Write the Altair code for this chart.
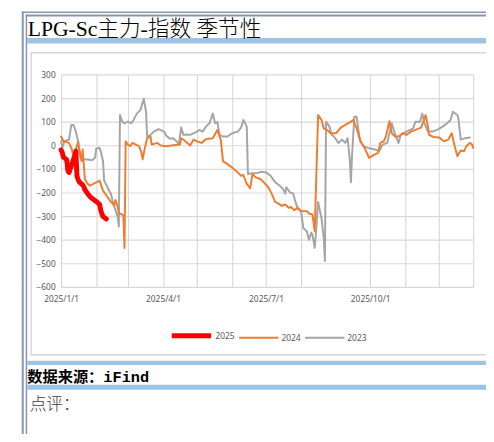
import altair as alt
import pandas as pd

# ---------------- data ----------------
YEARS = ["2025", "2024", "2023"]
COLORS = ["#ff0000", "#ed7d31", "#a5a5a5"]
WIDTHS = [5, 2, 2]

Y_TICKS = [-600, -500, -400, -300, -200, -100, 0, 100, 200, 300]

D2025 = ["01-01", "01-02", "01-03", "01-06", "01-07", "01-08", "01-09", "01-10",
         "01-13", "01-14", "01-15", "01-16", "01-17", "01-20", "01-21", "01-22",
         "01-23", "01-24", "01-27", "02-01", "02-04", "02-05", "02-06", "02-07", "02-10"]
V2025 = [-20, -30, -50, -62, -108, -115, -100, -88,
         -45, -25, -130, -145, -155, -168, -175, -188,
         -195, -202, -220, -238, -250, -275, -290, -302, -312]

D2024 = ["01-01", "01-03", "01-08", "01-10", "01-12", "01-15", "01-16", "01-19", "01-20",
         "01-22", "01-24", "01-26", "01-29", "02-01", "02-04", "02-07", "02-11", "02-14",
         "02-17", "02-18", "02-20", "02-21", "02-24", "02-25", "02-26", "02-27", "03-01",
         "03-03", "03-05", "03-08", "03-11", "03-13", "03-14", "03-16", "03-18", "03-21",
         "03-22", "03-27", "03-30", "04-04", "04-10", "04-16", "04-17", "04-20", "04-25",
         "04-28", "05-01", "05-05", "05-09", "05-15", "05-19", "05-22", "05-24", "05-28",
         "06-01", "06-06", "06-09", "06-11", "06-14", "06-17", "06-19", "06-22", "06-26",
         "06-29", "07-03", "07-06", "07-09", "07-12", "07-15", "07-18", "07-21", "07-23",
         "07-26", "07-29", "08-01", "08-06", "08-08", "08-11", "08-13", "08-16", "08-19",
         "08-21", "08-24", "08-27", "09-01", "09-05", "09-09", "09-14", "09-16", "09-19",
         "09-22", "09-26", "09-30", "10-04", "10-08", "10-10", "10-13", "10-15", "10-18",
         "10-20", "10-23", "10-26", "10-30", "11-02", "11-06", "11-10", "11-15", "11-19",
         "11-21", "11-22", "11-26", "12-01", "12-05", "12-09", "12-12", "12-15", "12-17",
         "12-20", "12-23", "12-25", "12-28", "12-30", "12-31"]
V2024 = [37, 17, 10, -11, -42, -4, 14, -67, -18,
         -143, -160, -171, -165, -157, -150, -192, -219, -240,
         -254, -232, -261, -289, -293, -300, -435, 17, 3,
         -4, 10, 3, -4, -32, -60, -11, 30, 37,
         3, 10, -1, -4, 0, 3, 30, 20, -1,
         24, 17, 10, 26, 30, 65, 24, -67, -80,
         -94, -115, -129, -126, -164, -182, -122, -136, -143,
         -157, -178, -205, -240, -247, -257, -251, -265, -261,
         -275, -265, -279, -279, -289, -293, -365, 128, 107,
         72, 65, 51, 51, 75, 86, 100, 107, 72,
         24, -11, -53, -42, -32, 10, 17, 40, 102,
         51, 37, 37, 51, 44, 58, 65, 75, 128,
         79, 44, 35, 33, 17, 24, 51, -11, -46,
         -22, -25, -4, 10, 3, -11]

D2023 = ["01-01", "01-02", "01-04", "01-08", "01-10", "01-12", "01-14", "01-16", "01-17",
         "01-18", "01-21", "01-25", "01-28", "01-31", "02-01", "02-04", "02-05", "02-07",
         "02-08", "02-11", "02-13", "02-14", "02-16", "02-17", "02-18", "02-20", "02-21",
         "02-22", "02-24", "02-26", "03-01", "03-04", "03-06", "03-09", "03-12", "03-15",
         "03-17", "03-18", "03-21", "03-24", "03-28", "04-02", "04-04", "04-07", "04-10",
         "04-13", "04-15", "04-17", "04-19", "04-22", "04-25", "05-01", "05-03", "05-06",
         "05-09", "05-12", "05-15", "05-17", "05-19", "05-21", "05-24", "05-28", "06-01",
         "06-06", "06-09", "06-11", "06-14", "06-15", "06-19", "06-23", "06-27", "07-01",
         "07-05", "07-08", "07-11", "07-13", "07-16", "07-18", "07-19", "07-22", "07-25",
         "07-27", "07-29", "08-01", "08-03", "08-06", "08-08", "08-10", "08-11", "08-13",
         "08-14", "08-16", "08-19", "08-21", "08-22", "08-23", "08-26", "08-28", "08-30",
         "09-03", "09-06", "09-09", "09-11", "09-13", "09-14", "09-15", "09-17", "09-19",
         "09-22", "09-25", "09-29", "10-05", "10-09", "10-12", "10-16", "10-20", "10-22",
         "10-26", "10-28", "11-02", "11-08", "11-10", "11-14", "11-16", "11-18", "11-21",
         "11-25", "11-29", "12-04", "12-08", "12-11", "12-13", "12-17", "12-18", "12-20",
         "12-24", "12-28"]
V2023 = [17, -11, 17, 24, 86, 86, 58, 17, -25,
         -53, -60, -60, -64, -53, -14, -11, -25, -67,
         -150, -178, -199, -205, -247, -261, -275, -303, -344,
         128, 100, 93, 100, 93, 107, 135, 149, 197,
         142, 37, 44, 58, 68, 58, 40, 28, 30,
         17, 3, 75, 44, 46, 44, 58, 65, 58,
         79, 93, 135, 93, 98, 44, 37, 37, 51,
         58, 75, 107, 79, -122, -118, -118, -112, -115,
         -129, -150, -164, -171, -185, -205, -178, -199, -205,
         -240, -268, -282, -351, -365, -400, -370, -379, -435,
         -380, -240, -310, -393, -490, 100, 79, 44, 37,
         10, 24, 10, 30, -60, -157, -40, 121, 121,
         17, -4, -11, -18, -25, 3, 10, 93, 60,
         10, 44, 58, 72, 100, 100, 135, 93, 58,
         58, 65, 79, 93, 107, 142, 128, 110, 24,
         30, 33]

TITLE = "LPG-Sc主力-指数 季节性"
SOURCE = "数据来源：iFind"
COMMENT = "点评："

# ---------------- table ----------------
rows = []
for year, dates, vals in [("2025", D2025, V2025), ("2024", D2024, V2024), ("2023", D2023, V2023)]:
    for d, v in zip(dates, vals):
        rows.append({"date": "2025-" + d + "T00:00:00", "value": v, "year": year})
df = pd.DataFrame(rows)

GRID_DATES = [alt.DateTime(year=2025, month=m, date=1) for m in [1, 2, 3, 4, 5, 6, 7, 8, 10, 11, 12]] + \
             [alt.DateTime(year=2025, month=12, date=31)]

LABEL_FONT = "Noto Sans"
LABEL_COLOR = "#595959"
GRID_COLOR = "#d9d9d9"

x_enc = alt.X(
    "date:T",
    title=None,
    scale=alt.Scale(domain=[alt.DateTime(year=2025, month=1, date=1),
                            alt.DateTime(year=2025, month=12, date=31)]),
    axis=alt.Axis(values=GRID_DATES,
                  labelExpr="(month(datum.value) % 3 == 0 && date(datum.value) == 1) ? timeFormat(datum.value, '%Y/%-m/%-d') : ''",
                  grid=True, gridColor=GRID_COLOR, gridWidth=1.2, ticks=False, domain=False,
                  labelFont=LABEL_FONT, labelFontSize=8.5, labelColor=LABEL_COLOR,
                  labelPadding=8, labelFlush=False, labelOverlap=False),
)
y_enc = alt.Y(
    "value:Q",
    title=None,
    scale=alt.Scale(domain=[-600, 300], nice=False),
    axis=alt.Axis(values=Y_TICKS, grid=True, gridColor=GRID_COLOR, gridWidth=1.2, ticks=False,
                  domain=False, labelFont=LABEL_FONT, labelFontSize=8.5, labelColor=LABEL_COLOR,
                  labelPadding=6),
)
color_enc = alt.Color("year:N", title=None, scale=alt.Scale(domain=YEARS, range=COLORS))
width_enc = alt.StrokeWidth("year:N", title=None,
                            scale=alt.Scale(type="ordinal", domain=YEARS, range=WIDTHS))

base = alt.Chart(df)
series_layers = []
for yr in ["2023", "2024", "2025"]:
    series_layers.append(
        base.transform_filter(alt.datum.year == yr)
        .mark_line(strokeCap="round", strokeJoin="round")
        .encode(x=x_enc, y=y_enc, color=color_enc, strokeWidth=width_enc)
    )

# ---------------- page decoration (pixel positions relative to plot origin) ----------------
one = pd.DataFrame({"k": [0]})
FRAME = "#8497b0"
BLUE = "#9dc3e6"


def band(x1, x2, y1, y2, color):
    return alt.Chart(one).mark_rect(color=color).encode(
        x=alt.value(x1), x2=alt.value(x2), y=alt.value(y1), y2=alt.value(y2))


deco = [
    band(-40, 440, -64, -62.5, FRAME),
    band(-36, 440, -61, -59, FRAME),
    band(-40, -38, -64, 370, FRAME),
    band(-36, -34.5, -61, 370, FRAME),
    band(-34.5, 440, -37, -31.5, BLUE),
    band(-34.5, 440, 291, 295.5, BLUE),
    band(-34.5, 440, 315.5, 320.5, BLUE),
    alt.Chart(one).mark_rect(fill="transparent", stroke="#d6d6d6", strokeWidth=1.5).encode(
        x=alt.value(-30.5), x2=alt.value(445), y=alt.value(-22), y2=alt.value(285)),
    alt.Chart(one).mark_text(align="left", baseline="alphabetic", fontSize=22, fontWeight=300,
                             color="#000000", font="Liberation Serif, Noto Sans CJK SC").encode(
        x=alt.value(-34), y=alt.value(-39.5), text=alt.value(TITLE)),
    alt.Chart(one).mark_text(align="left", baseline="alphabetic", fontSize=15.5, fontWeight="bold",
                             color="#000000", font="Liberation Mono, Noto Sans CJK SC").encode(
        x=alt.value(-34.5), y=alt.value(313), text=alt.value(SOURCE)),
    alt.Chart(one).mark_text(align="left", baseline="alphabetic", fontSize=17, fontWeight=300,
                             color="#404040", font="Liberation Serif, Noto Sans CJK SC").encode(
        x=alt.value(-32), y=alt.value(341), text=alt.value(COMMENT)),
]

chart = alt.layer(*deco, *series_layers).properties(
    width=419,
    height=216,
    padding={"left": 54, "top": 64, "right": 13, "bottom": 146},
    autosize=alt.AutoSizeParams(type="none"),
    background="white",
).configure_view(strokeWidth=0).configure_legend(
    orient="none", legendX=110, legendY=243, direction="horizontal",
    symbolType="stroke", symbolSize=1600, labelFont=LABEL_FONT, labelFontSize=8.5,
    labelColor=LABEL_COLOR, labelOffset=2, columnPadding=0,
)

chart.save("out.html", embed_options={"renderer": "svg", "actions": False})
